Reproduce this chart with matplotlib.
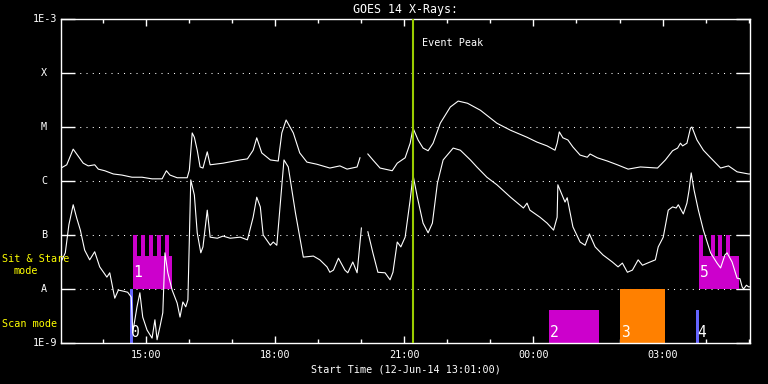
import numpy as np
import matplotlib
matplotlib.use('Agg')
import matplotlib.pyplot as plt
from matplotlib.ticker import NullLocator

title = "GOES 14 X-Rays:"
xlabel = "Start Time (12-Jun-14 13:01:00)"

# time in minutes after 12-Jun-14 13:01:00, flux as log10(W/m^2)
nan = np.nan
t_long = [0, 8, 17, 24, 31, 38, 47, 52, 61, 73, 85, 99, 113, 127, 141, 147, 152, 162, 176,
          179, 183, 186, 190, 194, 198, 204, 208, 226, 250, 260, 268, 273, 280, 292, 303,
          308, 314, 324, 333, 343, 357, 375, 389, 399, 413, 417, 422, 428, 435, 445, 462,
          469, 480, 487, 491, 498, 505, 512, 519, 529, 543, 554, 567, 585, 608, 627, 650,
          664, 678, 689, 692, 695, 700, 707, 714, 724, 734, 738, 748, 762, 776, 791, 808,
          832, 843, 853, 860, 864, 867, 873, 878, 880, 887, 896, 906, 920, 931, 943, 959, 961]
logf_long = [-5.76, -5.70, -5.41, -5.54, -5.67, -5.72, -5.70, -5.78, -5.81, -5.87, -5.89,
             -5.93, -5.93, -5.96, -5.96, -5.81, -5.89, -5.94, -5.94, -5.80, -5.11, -5.19,
             -5.43, -5.74, -5.76, -5.46, -5.70, -5.67, -5.61, -5.59, -5.43, -5.20, -5.48,
             -5.61, -5.63, -5.11, -4.87, -5.11, -5.48, -5.65, -5.69, -5.76, -5.72, -5.78,
             -5.74, -5.57, nan, -5.50, -5.61, -5.76, -5.81, -5.67, -5.57, -5.30, -5.02,
             -5.24, -5.39, -5.44, -5.30, -4.93, -4.63, -4.52, -4.56, -4.69, -4.93, -5.06,
             -5.19, -5.28, -5.35, -5.43, -5.30, -5.09, -5.20, -5.24, -5.37, -5.52, -5.56,
             -5.50, -5.57, -5.63, -5.70, -5.78, -5.74, -5.76, -5.61, -5.44, -5.39, -5.30,
             -5.35, -5.30, -5.02, -5.00, -5.24, -5.43, -5.57, -5.76, -5.72, -5.83, -5.87, -5.87]

t_short = [0, 6, 11, 17, 22, 27, 33, 40, 47, 50, 54, 64, 68, 75, 80, 87, 93, 98, 100, 106,
           110, 114, 120, 127, 131, 134, 138, 142, 145, 149, 155, 162, 166, 170, 174, 177,
           179, 181, 186, 190, 195, 198, 204, 208, 218, 226, 236, 250, 260, 268, 273, 278,
           282, 292, 296, 301, 306, 311, 317, 327, 338, 352, 361, 371, 375, 380, 387, 396,
           400, 407, 413, 419, 422, 428, 435, 442, 452, 459, 463, 469, 474, 480, 487, 491,
           497, 505, 512, 518, 525, 533, 547, 557, 571, 580, 594, 608, 627, 645, 650, 654,
           668, 678, 687, 692, 693, 699, 703, 706, 714, 724, 731, 737, 745, 756, 769, 777,
           783, 790, 797, 805, 811, 818, 829, 833, 840, 847, 853, 858, 861, 868, 873, 876,
           879, 883, 889, 896, 906, 915, 920, 926, 929, 936, 943, 947, 950, 952, 956, 959, 961]
logf_short = [-7.50, -7.33, -6.81, -6.44, -6.69, -6.91, -7.28, -7.46, -7.31, -7.43, -7.59,
              -7.78, -7.70, -8.17, -8.02, -8.04, -8.06, -8.15, -8.81, -8.33, -8.07, -8.52,
              -8.76, -8.91, -8.57, -8.94, -8.70, -8.44, -7.33, -7.70, -8.02, -8.26, -8.52,
              -8.24, -8.33, -8.20, -7.09, -5.98, -6.26, -6.96, -7.33, -7.22, -6.54, -7.04,
              -7.06, -7.02, -7.06, -7.04, -7.09, -6.67, -6.30, -6.48, -7.00, -7.19, -7.13,
              -7.19, -6.41, -5.61, -5.74, -6.59, -7.41, -7.39, -7.46, -7.59, -7.69, -7.65,
              -7.43, -7.65, -7.70, -7.50, -7.70, -6.87, nan, -6.94, -7.33, -7.69, -7.70,
              -7.83, -7.69, -7.13, -7.22, -7.04, -6.35, -5.89, -6.30, -6.78, -6.96, -6.78,
              -6.04, -5.61, -5.39, -5.43, -5.61, -5.74, -5.93, -6.07, -6.30, -6.50, -6.41,
              -6.54, -6.67, -6.78, -6.91, -6.67, -6.07, -6.26, -6.39, -6.31, -6.85, -7.13,
              -7.19, -6.98, -7.22, -7.37, -7.50, -7.59, -7.52, -7.69, -7.65, -7.46, -7.56,
              -7.52, -7.46, -7.22, -7.04, -6.54, -6.48, -6.50, -6.44, -6.61, -6.41, -6.17,
              -5.85, -6.17, -6.54, -6.91, -7.33, -7.52, -7.61, -7.37, -7.33, -7.50, -7.80,
              -7.81, -7.96, -8.00, -7.93, -7.96, -7.96]

y_levels = [-9, -8, -7, -6, -5, -4, -3]
y_labels = ['1E-9', 'A', 'B', 'C', 'M', 'X', '1E-3']
x_major = [119, 299, 479, 659, 839]
x_major_labels = ['15:00', '18:00', '21:00', '00:00', '03:00']
x_minor = [59 + 60 * k for k in range(16)]
t_end = 961

event_peak = 491
event_label = "Event Peak"

# observation blocks (minutes after start, log10 flux levels)
obs_label = ['0', '1', '2', '3', '4', '5']
obs_start = [96, 100, 681, 780, 886, 890]
obs_end = [100, 155, 751, 843, 890, 945]
obs_bottom = [-9, -8, -9, -9, -9, -8]
obs_top = [-8, -7.39, -8.39, -8, -8.39, -7.39]
obs_color = ['#6666ff', '#cc00cc', '#cc00cc', '#ff8000', '#6666ff', '#cc00cc']
tooth_start = [100, 112, 123, 134, 145, 890, 906, 917, 928]
tooth_width = 5.6
tooth_bottom = -7.39
tooth_top = -7.0

mono = 'DejaVu Sans Mono'
fig = plt.figure(figsize=(7.68, 3.84), dpi=100, facecolor='black')
ax = fig.add_axes([61 / 768, 41 / 384, 689 / 768, 324 / 384])
ax.set_facecolor('black')
ax.set_yscale('log')
ax.set_xlim(0, t_end)
ax.set_ylim(1e-9, 1e-3)
for s in ax.spines.values():
    s.set_color('white')
    s.set_linewidth(1.0)

# grid dotted lines
for lv in y_levels[1:-1]:
    ax.axhline(10.0 ** lv, color='white', lw=0.75, linestyle=(0, (1, 5)), zorder=1)

# blocks
for i in range(len(obs_start)):
    b = 10.0 ** obs_bottom[i]
    tp = 10.0 ** obs_top[i]
    ax.bar(obs_start[i], tp - b, bottom=b, width=obs_end[i] - obs_start[i],
           align='edge', color=obs_color[i], zorder=2, linewidth=0)
for ts in tooth_start:
    b = 10.0 ** tooth_bottom
    ax.bar(ts, 10.0 ** tooth_top - b, bottom=b, width=tooth_width, align='edge',
           color='#cc00cc', zorder=2, linewidth=0)
for i in range(len(obs_start)):
    yc = 10.0 ** (obs_bottom[i] + 0.19) if obs_bottom[i] == -9 else 10.0 ** (obs_bottom[i] + 0.31)
    ax.text(obs_start[i] + 1.0, yc, obs_label[i], color='white', fontsize=10.5,
            family=mono, ha='left', va='center', zorder=4)

# curves
ax.plot(t_long, 10.0 ** np.array(logf_long), color='white', lw=0.8, zorder=3)
ax.plot(t_short, 10.0 ** np.array(logf_short), color='white', lw=0.8, zorder=3)

# event peak
ax.axvline(event_peak, color='#99cc00', lw=1.5, zorder=5)
ax.text(event_peak + 12, 10.0 ** -3.44, event_label, color='white', fontsize=7.3,
        family=mono, ha='left', va='center')

# ticks
ax.yaxis.set_minor_locator(NullLocator())
ax.set_yticks([10.0 ** v for v in y_levels])
ax.set_yticklabels([])
ax.tick_params(axis='y', which='major', direction='in', length=10, width=1,
               color='white', left=True, right=True)
ytr = ax.get_yaxis_transform()
for v, lab in zip(y_levels, y_labels):
    if lab.startswith('1E'):
        ax.text(-0.006, 10.0 ** v, lab, transform=ytr, color='white', fontsize=7.3,
                family=mono, ha='right', va='center')
    else:
        ax.text(-0.0247, 10.0 ** v, lab, transform=ytr, color='white', fontsize=7.3,
                family=mono, ha='center', va='center')

ax.set_xticks(x_major)
ax.set_xticklabels(x_major_labels, color='white', fontsize=7.3, family=mono)
ax.set_xticks(x_minor, minor=True)
ax.tick_params(axis='x', which='major', direction='in', length=5, width=1,
               color='white', top=True, bottom=True, pad=5)
ax.tick_params(axis='x', which='minor', direction='in', length=3, width=1,
               color='white', top=True, bottom=True)

fig.text(405.5 / 768, (384 - 9) / 384, title, color='white', fontsize=8.4, family=mono,
         ha='center', va='center')
fig.text(405.5 / 768, (384 - 369) / 384, xlabel, color='white', fontsize=7.3, family=mono,
         ha='center', va='center')
fig.text(2 / 768, (384 - 259) / 384, "Sit & Stare", color='#ffff00', fontsize=7.3,
         family=mono, ha='left', va='center')
fig.text(14 / 768, (384 - 271) / 384, "mode", color='#ffff00', fontsize=7.3,
         family=mono, ha='left', va='center')
fig.text(2 / 768, (384 - 324) / 384, "Scan mode", color='#ffff00', fontsize=7.3,
         family=mono, ha='left', va='center')

fig.savefig('out.png', dpi=100, facecolor='black')
